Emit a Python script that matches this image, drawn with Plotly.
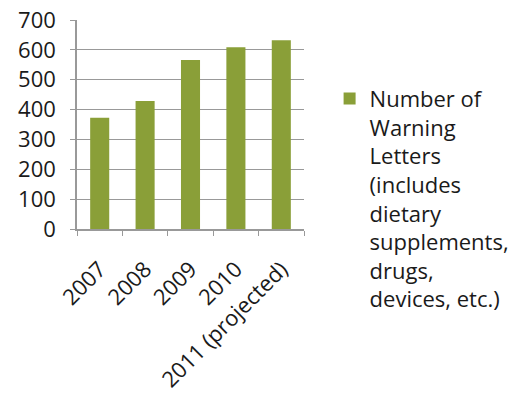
import plotly.graph_objects as go

categories = ["2007", "2008", "2009", "2010", "2011 (projected)"]
values = [373, 429, 566, 609, 632]
series_name = "Number of<br>Warning<br>Letters<br>(includes<br>dietary<br>supplements,<br>drugs,<br>devices, etc.)"
y_ticks = [0, 100, 200, 300, 400, 500, 600, 700]

FONT = "Open Sans, Noto Sans, sans-serif"
GREEN = "#8a9f38"
GRID = "#999999"
TXT = "#1a1a1a"

fig = go.Figure()
fig.add_trace(go.Bar(x=categories, y=values, name=series_name,
                     marker=dict(color=GREEN, line=dict(width=0)),
                     showlegend=True))

fig.update_layout(
    width=511, height=399,
    margin=dict(l=77, r=207, t=20, b=170, autoexpand=False),
    paper_bgcolor="white", plot_bgcolor="white",
    bargap=0.58,
    font=dict(family=FONT, color=TXT),
    legend=dict(xref="container", yref="container",
                x=0.645, y=0.805, xanchor="left", yanchor="top",
                font=dict(size=22, family=FONT, color=TXT),
                valign="top", itemwidth=30, maxheight=380,
                bgcolor="rgba(0,0,0,0)", tracegroupgap=0),
    xaxis=dict(showline=True, linecolor=GRID, linewidth=1.5, automargin=False,
               ticks="outside", ticklen=5, tickcolor=GRID,
               tickson="boundaries", tickangle=-45, ticklabelstandoff=17,
               tickfont=dict(size=22, family=FONT, color=TXT),
               showgrid=False),
    yaxis=dict(range=[0, 700], tickvals=y_ticks, showline=True, linecolor=GRID,
               linewidth=1.5, ticks="outside", ticklen=5, tickcolor=GRID,
               automargin=False,
               gridcolor=GRID, gridwidth=1.2, zeroline=False, ticklabelstandoff=10,
               tickfont=dict(size=22, family=FONT, color=TXT)),
)

fig.write_html("out.html")
